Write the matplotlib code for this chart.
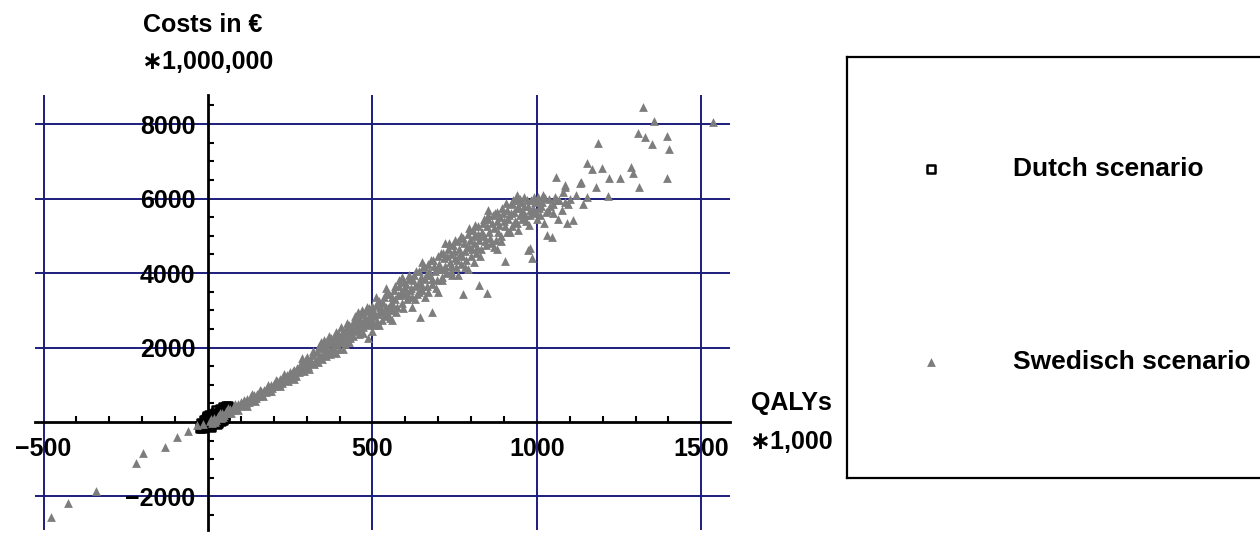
import numpy as np
import matplotlib
matplotlib.use("Agg")
import matplotlib.pyplot as plt
from matplotlib.ticker import MultipleLocator

plt.rcParams['font.family'] = ['Liberation Sans', 'DejaVu Sans']
plt.rcParams['font.weight'] = 'bold'

# Dutch scenario (QALYs *1000, costs *1,000,000)
dutch_x = [-20, -15, -10, -8, -5, 0, 2, 5, 8, 10, 12, 15, 18, 20, 22, 25, 28, 30,
           33, 35, 38, 40, 42, 45, 48, 50, 55, 58, -25, -2, 20, 30, 45, 60,
           -22, -18, -12, -6, 3, 7, 14, 24, 36, 44, 52, 56, 62, 50, 40, 26, 10, -3]
dutch_y = [-120, -60, -100, 0, -40, 30, -60, 80, 20, 130, 60, -20, 160, 100, 40, 200, 140, 80,
           240, 170, 110, 290, 210, 150, 330, 250, 380, 300, -150, 120, 250, -30, 400, 420,
           -30, -150, 40, 90, 180, -110, 220, 320, 350, 60, 180, 440, 330, 120, 30, -60, -130, 170]

# Swedisch scenario
swe_x = [
    -477, -426, -340, -219, -198, -131, -94, -61, -33,
    -15, 5, 12, 18, 25, 30, 38, 42, 50, 55, 60, 66, 72, 78, 85, 90, 96, 100, 105,
    110, 115, 120, 126, 130, 135, 140, 146, 150, 155, 160, 165, 170, 175, 180, 186, 190, 196, 200,
    205, 210, 215, 220, 226, 230, 236, 240, 245, 250, 256, 260, 265, 270, 276, 280, 286, 290, 296, 300, 262, 285,
    305, 310, 315, 320, 325, 330, 335, 340, 345, 350, 355, 360, 365, 370, 375, 380, 385, 390, 395, 400, 345, 390, 410,
    405, 410, 415, 420, 425, 430, 435, 440, 445, 450, 455, 460, 465, 470, 475, 480, 485, 490, 495, 500, 430, 470, 455, 500, 485,
    505, 510, 515, 520, 525, 530, 535, 540, 545, 550, 555, 560, 565, 570, 575, 580, 585, 590, 595, 600, 520, 560, 590, 540,
    605, 610, 615, 620, 625, 630, 635, 640, 645, 650, 655, 660, 665, 670, 675, 680, 685, 690, 695, 700, 620, 660, 700, 650,
    705, 710, 715, 720, 725, 730, 735, 740, 745, 750, 755, 760, 765, 770, 775, 780, 785, 790, 795, 800, 720, 760, 790, 740,
    805, 810, 815, 820, 825, 830, 835, 840, 845, 850, 855, 860, 865, 870, 875, 880, 885, 890, 895, 900, 810, 903, 850, 880,
    905, 910, 915, 920, 925, 930, 935, 940, 945, 950, 955, 960, 965, 970, 975, 980, 985, 979, 990, 995, 1000, 1000, 940,
    1005, 1010, 1015, 1020, 1024, 1030, 1035, 1046, 1040, 1050, 1058, 1060, 1065, 1079, 1085, 1085, 1091, 1100, 1110, 1085,
    1134, 1152, 1167, 1198, 1186, 1180, 1216, 1152, 1219, 1252, 1286, 1292, 1310, 1322, 1356, 1535, 1307, 1329, 1395, 1350,
    1401, 1395, 1120, 1140,
    848, 775, 824, 681, 645, 973, 924, 1131,
    8, 22, 35, 47, 62, 70, 83, 92, 108, 118, 133, 143, 158, 168, 182, 192, 208, 218, 232, 243, 258, 268, 283, 293, 298,
    302, 308, 318, 322, 333, 338, 348, 352, 358, 362, 368, 372, 378, 383, 388, 393, 398, 403, 408, 413, 418, 423, 428,
    433, 438, 442, 448, 452, 458, 462, 468, 472, 478, 482, 488, 492, 498,
    502, 508, 512, 518, 522, 528, 532, 538, 542, 548, 552, 558, 562, 568, 572, 578, 582, 588, 592, 598,
    603, 608, 612, 618, 622, 628, 632, 638, 642, 648, 652, 658, 662, 668, 672, 678, 682, 688, 692, 698,
    702, 708, 712, 718, 722, 728, 732, 738, 742, 748, 752, 758, 762, 768, 772, 778, 782, 788, 792, 798,
    802, 808, 812, 818, 822, 828, 832, 838, 842, 848, 852, 858, 862, 868, 872, 878, 882, 888, 892, 898,
    902, 908, 912, 918, 922, 928, 932, 938, 942, 948, 952, 958, 962, 968, 972, 978, 982, 988, 992, 998,
    1003, 1012, 1018, 1028, 1038, 1048, 1055, 1068, 1075, 1095,
]
swe_y = [
    -2550, -2175, -1850, -1100, -830, -670, -400, -240, -80,
    -60, 40, -20, 110, 60, 170, 120, 230, 190, 300, 250, 350, 310, 420, 380, 470, 430, 540, 460,
    560, 500, 620, 540, 690, 600, 720, 650, 760, 700, 820, 730, 870, 800, 920, 840, 980, 900, 1010,
    960, 1100, 1010, 1150, 1060, 1210, 1120, 1260, 1180, 1330, 1220, 1400, 1290, 1450, 1350, 1500, 1400, 1560, 1460, 1620, 1150, 1720,
    1500, 1700, 1580, 1800, 1650, 1890, 1720, 1980, 1800, 2050, 1850, 1960, 2150, 1900, 2250, 2020, 2300, 2100, 2380, 2160, 2150, 1850, 1950,
    2300, 2450, 2250, 2520, 2350, 2600, 2400, 2680, 2450, 2750, 2500, 2820, 2600, 2900, 2650, 2980, 2700, 3050, 2780, 3120, 2150, 2400, 2950, 2450, 2250,
    2850, 3150, 2700, 3250, 2950, 3000, 3350, 3100, 2900, 3450, 3200, 3000, 3550, 3300, 3100, 3650, 3400, 3200, 3750, 3450, 2600, 2750, 3900, 3600,
    3300, 3850, 3550, 3350, 3950, 3650, 3450, 4050, 3750, 3550, 4150, 3850, 3650, 4250, 3950, 3700, 4350, 4050, 3800, 4450, 3100, 3350, 3500, 4300,
    4100, 3900, 4550, 4200, 4000, 4650, 4300, 4050, 4750, 4400, 4150, 4850, 4500, 4250, 4950, 4600, 4350, 5050, 4700, 4450, 4800, 3950, 4100, 4500,
    5150, 4800, 4550, 5250, 4900, 4650, 5350, 5000, 4750, 5450, 5100, 4800, 5550, 5200, 4900, 5650, 5300, 5000, 5750, 5400, 4300, 4320, 5700, 4650,
    5880, 5100, 5550, 5850, 5250, 5650, 5950, 5350, 5750, 6000, 5450, 5800, 5550, 5950, 5300, 5700, 4400, 4670, 5600, 5900, 5960, 5450, 6100,
    5750, 5550, 5900, 5350, 6010, 5020, 5700, 4970, 5800, 5600, 6580, 5950, 5450, 6180, 6360, 5900, 5340, 6000, 5420, 6310,
    6440, 6950, 6790, 6820, 7490, 6310, 6070, 6040, 6550, 6550, 6850, 6690, 6310, 8460, 8080, 8055, 7760, 7650, 7680, 7460,
    7330, 6550, 6100, 5850,
    3460, 3440, 3680, 2950, 2820, 4620, 5880, 6420,
    90, -10, 250, 130, 380, 230, 470, 330, 600, 430, 740, 560, 850, 690, 990, 820, 1120, 970, 1290, 1100, 1370, 1240, 1580, 1380, 1700,
    1750, 1420, 1900, 1560, 1620, 2050, 1700, 2200, 1780, 2080, 2300, 1820, 2150, 1960, 2420, 2250, 1950, 2550, 2150, 2400, 2100, 2650, 2480,
    2250, 2550, 2300, 2850, 2600, 2350, 2700, 3000, 2550, 2800, 3100, 2600, 2900, 2650,
    3000, 2600, 3350, 2900, 3100, 2750, 3200, 2850, 3450, 3050, 2800, 3350, 3150, 3650, 2950, 3400, 3800, 3500, 3050, 3600,
    3700, 3400, 3950, 3600, 3800, 3300, 4050, 3700, 3500, 3900, 3650, 4200, 3950, 3500, 4050, 4350, 3850, 4200, 3600, 4100,
    4250, 4550, 3800, 4400, 4100, 4450, 4800, 4200, 3950, 4600, 4900, 4350, 4650, 5000, 4450, 4800, 4150, 4700, 5200, 4900,
    4650, 5000, 5300, 4700, 5050, 4450, 5100, 5450, 4850, 5250, 5550, 4950, 5350, 4700, 5600, 5400, 5100, 5500, 4850, 5600,
    5250, 5700, 5450, 5100, 5600, 5950, 5400, 5750, 5150, 5550, 5900, 5650, 6050, 5400, 5800, 5550, 5950, 5750, 6050, 5650,
    6050, 5800, 6100, 5650, 6000, 5850, 6050, 5950, 5700, 5850,
]

x_ticks = [-500, 500, 1000, 1500]
y_ticks = [-2000, 2000, 4000, 6000, 8000]

fig = plt.figure(figsize=(12.6, 5.35), dpi=100)
ax = fig.add_axes([35 / 1260, 1 - 530 / 535, 695 / 1260, 435 / 535])

ax.scatter(dutch_x, dutch_y, marker='s', s=34, facecolors='none', edgecolors='black',
           linewidths=1.8, label='Dutch scenario', zorder=3)
ax.scatter(swe_x, swe_y, marker='^', s=40, color='#7d7d7d', linewidths=0,
           label='Swedisch scenario', zorder=4)

ax.set_xlim(-526, 1587)
ax.set_ylim(-2900, 8780)

for s in ['top', 'right']:
    ax.spines[s].set_visible(False)
ax.spines['left'].set_position(('data', 0))
ax.spines['bottom'].set_position(('data', 0))
for s in ['left', 'bottom']:
    ax.spines[s].set_linewidth(2)
    ax.spines[s].set_zorder(2)

ax.set_xticks(x_ticks)
ax.set_yticks(y_ticks)
ax.xaxis.set_minor_locator(MultipleLocator(100))
ax.yaxis.set_minor_locator(MultipleLocator(500))
ax.tick_params(which='major', length=0, labelsize=18)
ax.tick_params(axis='y', which='major', pad=9)
ax.tick_params(axis='x', which='major', pad=11)
ax.tick_params(which='minor', direction='in', length=4, width=1.5, color='black')
ax.grid(True, which='major', color='#1c1c7c', linewidth=1.4, zorder=1)
ax.set_axisbelow(True)

fig.text(203 / 1260, 1 - 25 / 535, 'Costs in €', ha='center', va='center', fontsize=18)
fig.text(207 / 1260, 1 - 62 / 535, '∗1,000,000', ha='center', va='center', fontsize=18)
fig.text(791 / 1260, 1 - 403 / 535, 'QALYs', ha='center', va='center', fontsize=18)
fig.text(791 / 1260, 1 - 442 / 535, '∗1,000', ha='center', va='center', fontsize=18)

# legend box
lax = fig.add_axes([847 / 1260, 1 - 478 / 535, 433 / 1260, 421 / 535])
lax.set_xticks([])
lax.set_yticks([])
for s in lax.spines.values():
    s.set_linewidth(1.6)
    s.set_color('black')
handles, labels = ax.get_legend_handles_labels()
lax.legend(handles, labels, loc='upper left', bbox_to_anchor=(0.164, 0.762),
           frameon=False, fontsize=19, handlelength=1, handletextpad=2.6,
           labelspacing=6.4, borderpad=0, borderaxespad=0)

fig.savefig('out.png', dpi=100)
